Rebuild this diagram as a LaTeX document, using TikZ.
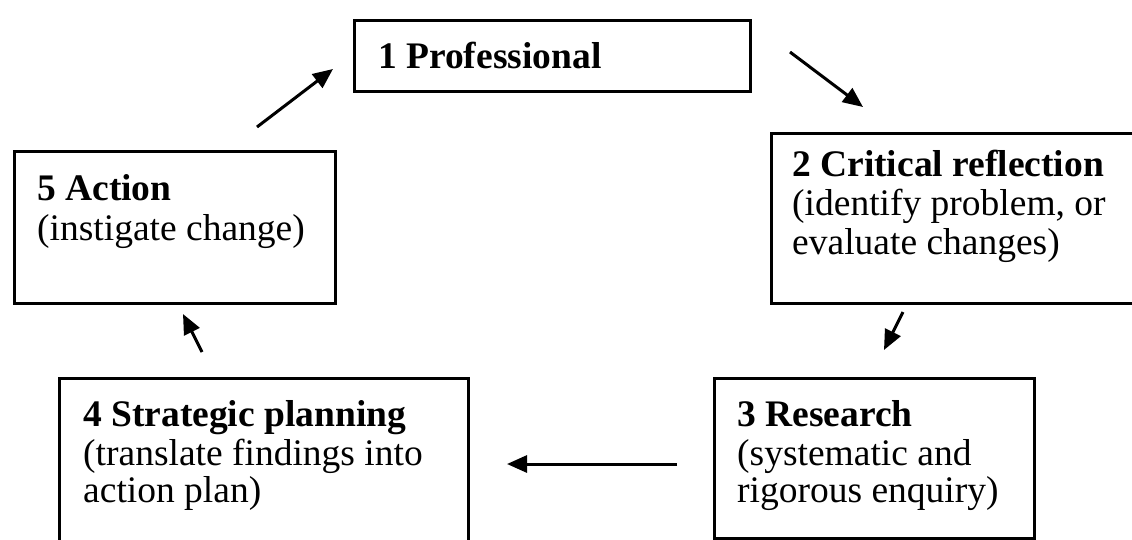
\documentclass[tikz,border=0pt]{standalone}
\usepackage{fontspec}
\setmainfont{Liberation Serif}
\usetikzlibrary{arrows.meta}
\begin{document}
\begin{tikzpicture}[x=1pt,y=-1pt,
  box/.style={draw, line width=2.6pt, rectangle, inner sep=0pt, anchor=north west},
  lbl/.style={anchor=base west, inner sep=0pt, font=\fontsize{37.5}{39}\selectfont},
  head/.style={anchor=base west, inner sep=0pt, font=\fontsize{37.5}{39}\selectfont\bfseries},
  flow/.style={line width=3pt, -{Triangle[length=20pt,width=17pt]}}]
\useasboundingbox (0,0) rectangle (1132,539);
\clip (0,0) rectangle (1132,539);

% the five stages of the cycle
\node[box, minimum width=396pt, minimum height=71pt]  (b1) at (353,19)  {};
\node[box, minimum width=375pt, minimum height=170pt] (b2) at (770,132) {};
\node[box, minimum width=320pt, minimum height=160pt] (b3) at (713,377) {};
\node[box, minimum width=409pt, minimum height=180pt] (b4) at (58,377)  {};
\node[box, minimum width=321pt, minimum height=152pt] (b5) at (13,150)  {};

% stage texts
\node[head] (t1) at (378,68)  {1 Professional};

\node[head] (t2a) at (792,176) {2 Critical reflection};
\node[lbl]  (t2b) at (792,215) {(identify problem, or};
\node[lbl]  (t2c) at (792,254) {evaluate changes)};

\node[head] (t3a) at (737,426) {3 Research};
\node[lbl]  (t3b) at (737,465) {(systematic and};
\node[lbl]  (t3c) at (737,502) {rigorous enquiry)};

\node[head] (t4a) at (83,426) {4 Strategic planning};
\node[lbl]  (t4b) at (83,465) {(translate findings into};
\node[lbl]  (t4c) at (83,502) {action plan)};

\node[head] (t5a) at (37,200) {5 Action};
\node[lbl]  (t5b) at (37,240) {(instigate change)};

% arrow end points in the gaps between the boxes
\coordinate (a12s) at (790,52);  \coordinate (a12e) at (863,107);
\coordinate (a23s) at (903,312); \coordinate (a23e) at (884,350);
\coordinate (a34s) at (677,464); \coordinate (a34e) at (507,464);
\coordinate (a45s) at (202,352); \coordinate (a45e) at (183,314);
\coordinate (a51s) at (257,127); \coordinate (a51e) at (333,69);

\draw[flow] (a12s) -- (a12e);
\draw[flow] (a23s) -- (a23e);
\draw[flow] (a34s) -- (a34e);
\draw[flow] (a45s) -- (a45e);
\draw[flow] (a51s) -- (a51e);
\end{tikzpicture}
\end{document}
